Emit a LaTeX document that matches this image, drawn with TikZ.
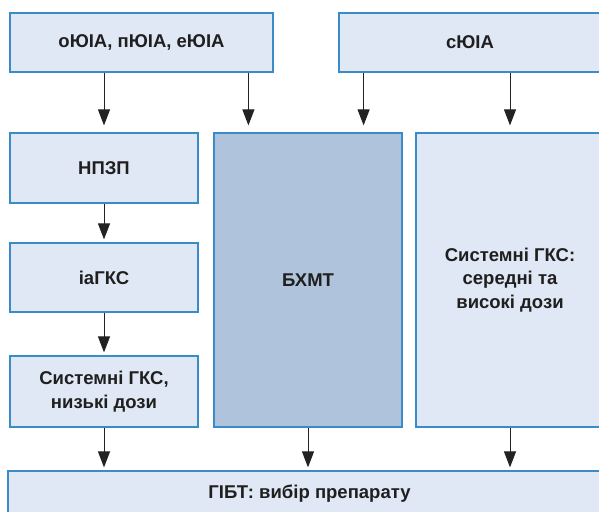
\documentclass[tikz,border=0pt]{standalone}
\usepackage{fontspec}
\setmainfont{Liberation Sans}
\usepackage{tikz}
\usetikzlibrary{arrows.meta, positioning, calc}
\definecolor{boxfill}{RGB}{224, 232, 245}
\definecolor{boxdark}{RGB}{175, 195, 220}
\definecolor{boxline}{RGB}{58, 140, 200}
\definecolor{arrowgray}{RGB}{35, 35, 35}

\begin{document}
\begin{tikzpicture}[
          x=1pt, y=-1pt,
          lightbox/.style={rectangle, draw=boxline, line width=1.2pt, fill=boxfill, align=center, inner sep=0pt, font=\fontsize{18.5}{23.5}\selectfont\bfseries, text=black!88},
          darkbox/.style={lightbox, fill=boxdark},
          arr/.style={-{Triangle[length=16pt, width=12pt]}, arrowgray, line width=1pt, shorten >=3pt}
        ]
          \clip (0,0) rectangle (599,511);
          \fill[white] (0,0) rectangle (599,511);

          % Top row
          \node[lightbox, minimum width=263pt, minimum height=59pt] (ja) at (141.5, 42.5) {оЮІА, пЮІА, еЮІА};
          \node[lightbox, minimum width=262pt, minimum height=59pt] (sja) at (470, 42.5) {сЮІА};

          % Left column
          \node[lightbox, minimum width=188pt, minimum height=70pt] (npzp) at (104, 168) {НПЗП};
          \node[lightbox, minimum width=188pt, minimum height=69pt] (iagks) at (104, 277.5) {іаГКС};
          \node[lightbox, minimum width=188pt, minimum height=71pt] (gkslow) at (104, 391.5) {Системні ГКС,\\низькі дози};

          % Middle and right columns
          \node[darkbox, minimum width=188pt, minimum height=294pt] (bhmt) at (308, 280) {БХМТ};
          \node[lightbox, minimum width=188pt, minimum height=294pt] (gkshigh) at (510, 280) {Системні ГКС:\\середні та\\високі дози};

          % Bottom
          \node[lightbox, minimum width=603pt, minimum height=46pt] (gibt) at (309.5, 494) {ГІБТ: вибір препарату};

          % Connections
          \coordinate (bhmtl) at ([xshift=35pt]bhmt.north west);
          \coordinate (bhmtr) at ([xshift=-39pt]bhmt.north east);
          \draw[arr, shorten >=7pt] (ja.south -| npzp.north) -- (npzp.north);
          \draw[arr, shorten >=7pt] (ja.south -| bhmtl) -- (bhmtl);
          \draw[arr, shorten >=7pt] (sja.south -| bhmtr) -- (bhmtr);
          \draw[arr, shorten >=7pt] (sja.south -| gkshigh.north) -- (gkshigh.north);
          \draw[arr] (npzp) -- (iagks);
          \draw[arr] (iagks) -- (gkslow);
          \draw[arr] (gkslow.south) -- (gibt.north -| gkslow.south);
          \draw[arr] (bhmt.south) -- (gibt.north -| bhmt.south);
          \draw[arr] (gkshigh.south) -- (gibt.north -| gkshigh.south);
        \end{tikzpicture}
\end{document}
